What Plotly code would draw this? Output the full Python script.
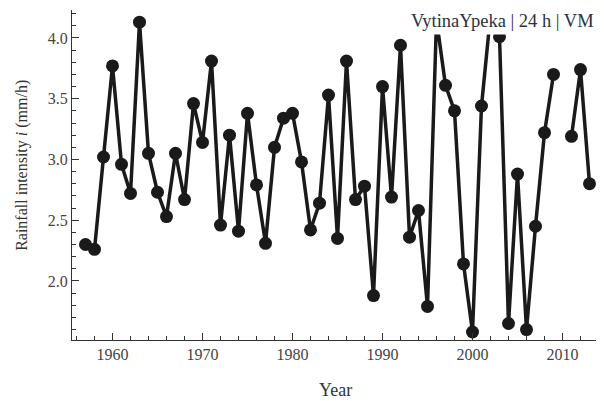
import plotly.graph_objects as go

years = list(range(1957, 2014))
intensity = [
    2.30, 2.26, 3.02, 3.77, 2.96, 2.72, 4.13, 3.05, 2.73, 2.53,  # 1957-1966
    3.05, 2.67, 3.46, 3.14, 3.81, 2.46, 3.20, 2.41, 3.38, 2.79,  # 1967-1976
    2.31, 3.10, 3.34, 3.38, 2.98, 2.42, 2.64, 3.53, 2.35, 3.81,  # 1977-1986
    2.67, 2.78, 1.88, 3.60, 2.69, 3.94, 2.36, 2.58, 1.79, 4.15,  # 1987-1996
    3.61, 3.40, 2.14, 1.58, 3.44, 4.19, 4.01, 1.65, 2.88, 1.60,  # 1997-2006
    2.45, 3.22, 3.70, None, 3.19, 3.74, 2.80,                    # 2007-2013
]
x_ticks = [1960, 1970, 1980, 1990, 2000, 2010]
y_ticks = [2.0, 2.5, 3.0, 3.5, 4.0]

font_family = "Liberation Serif, Times New Roman, serif"
ink = "#1a1a1a"

fig = go.Figure()
fig.add_trace(go.Scatter(
    x=years, y=intensity, mode="lines+markers",
    line=dict(color=ink, width=3.5),
    marker=dict(color=ink, size=13),
    connectgaps=False, showlegend=False,
))

# page body has an 8px margin, so the figure is sized to fit inside the window
fig.update_layout(
    width=596, height=393,
    margin=dict(l=64, r=1, t=2, b=61),
    paper_bgcolor="white", plot_bgcolor="white",
    font=dict(family=font_family, color="#444", size=16),
)
fig.update_xaxes(
    range=[1955.5, 2014.5], showgrid=False, zeroline=False, automargin=False,
    showline=True, linecolor="#333", linewidth=1,
    ticks="inside", ticklen=7, tickcolor="#333",
    tickvals=x_ticks, ticktext=[str(v) for v in x_ticks],
    minor=dict(dtick=2, tick0=1956, ticks="inside", ticklen=4, tickcolor="#333"),
)
fig.update_yaxes(
    range=[1.514, 4.23], showgrid=False, zeroline=False, automargin=False,
    showline=True, linecolor="#333", linewidth=1,
    ticks="inside", ticklen=7, tickcolor="#333",
    tickvals=y_ticks, ticktext=[f"{v:.1f}" for v in y_ticks],
    minor=dict(dtick=0.1, tick0=1.5, ticks="inside", ticklen=4, tickcolor="#333"),
)
# axis titles
fig.add_annotation(
    text="Year", xref="paper", yref="paper", x=0.497, y=-0.1515,
    xanchor="center", yanchor="middle", showarrow=False,
    font=dict(size=18, color="#333", family=font_family),
)
fig.add_annotation(
    text="Rainfall intensity <i>i</i> (mm/h)", xref="paper", yref="paper",
    x=-0.094, y=0.528, xanchor="center", yanchor="middle", textangle=-90,
    showarrow=False, font=dict(size=16, color="#333", family=font_family),
)
fig.add_annotation(
    text="VytinaYpeka | 24 h | VM", xref="paper", yref="paper",
    x=0.99, y=0.967, xanchor="right", yanchor="middle", showarrow=False,
    font=dict(size=18.5, color="#2c3142", family=font_family),
    bgcolor="white", borderpad=3,
)

fig.write_html("out.html")
